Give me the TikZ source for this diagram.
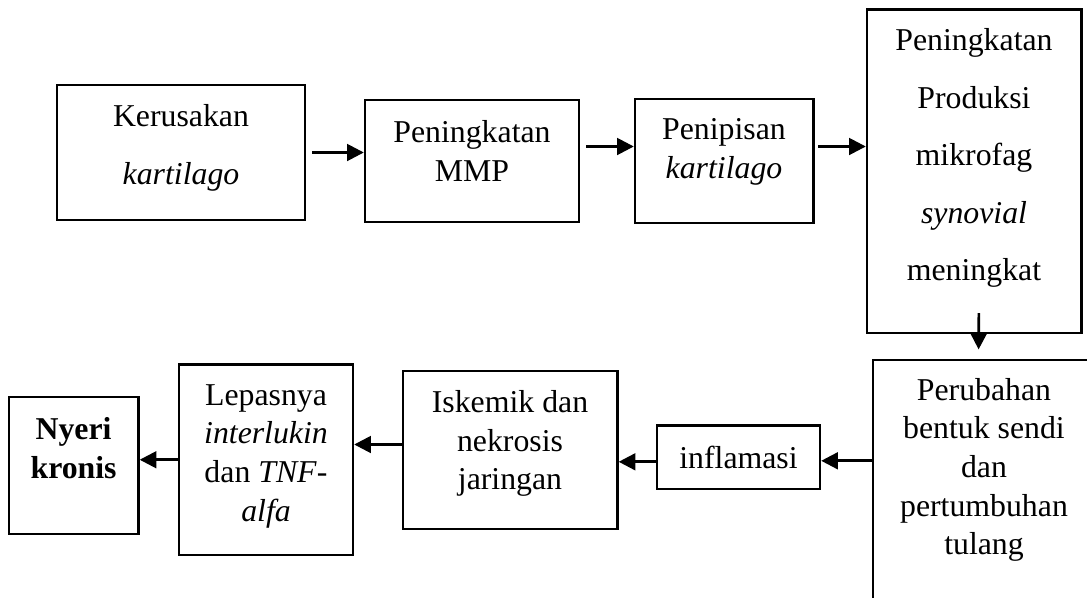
\documentclass[tikz,border=0pt]{standalone}
\usepackage{fontspec}
\setmainfont{Liberation Serif}
\usetikzlibrary{arrows.meta,calc,fit}

\begin{document}
\begin{tikzpicture}[x=0.3774pt,y=-0.3774pt,
  stage/.style={draw,line width=.9pt,inner sep=0pt},
  stagetext/.style={align=center,inner sep=0pt,font=\fontsize{12}{14.6}\selectfont},
  widetext/.style={align=center,inner sep=0pt,font=\fontsize{12}{21.7}\selectfont},
  flow/.style={-{Triangle[length=6.3pt,width=6.3pt]},line width=1pt}]
  \useasboundingbox (0,0) rectangle (1087,598);
  \clip (0,0) rectangle (1087,598);
  % upper row
  \node[stage,fit={(57,85) (305,220)}] (b1) {};
  \node[widetext] (t1) at (181,148) {Kerusakan\\ \textit{kartilago}};
  \node[stage,fit={(365,100) (579,222)}] (b2) {};
  \node[stagetext] (t2) at (472,151) {Peningkatan\\ MMP};
  \node[stage,fit={(635,99) (813.5,223)}] (b3) {};
  \node[stagetext] (t3) at (724,152) {Penipisan\\ \textit{kartilago}};
  \node[stage,fit={(867,9.5) (1081.5,333)}] (b4) {};
  \node[widetext] (t4) at (974,158) {Peningkatan\\ Produksi\\ mikrofag\\ \textit{synovial}\\ meningkat};
  % lower row
  \node[stage,fit={(873,360) (1095,610)}] (b5) {};
  \node[stagetext] (t5) at (984,470) {Perubahan\\ bentuk sendi\\ dan\\ pertumbuhan\\ tulang};
  \node[stage,fit={(657,425.6) (820,489)}] (b6) {};
  \node[stagetext] (t6) at (738.5,457) {inflamasi};
  \node[stage,fit={(403,371) (617.5,529)}] (b7) {};
  \node[stagetext] (t7) at (510,443.5) {Iskemik dan\\ nekrosis\\ jaringan};
  \node[stage,fit={(179,364.5) (353,555)}] (b8) {};
  \node[stagetext] (t8) at (266,456) {Lepasnya\\ \textit{interlukin}\\ dan \textit{TNF}-\\ \textit{alfa}};
  \node[stage,fit={(9,397) (138.5,534)}] (b9) {};
  \node[stagetext,font=\fontsize{12}{14.6}\selectfont\bfseries] (t9) at (73.6,448) {Nyeri\\ kronis};

  \draw[flow] ($(b1.east)+(6,0)$) -- (b1.east -| b2.west);
  \draw[flow] ($(b2.east)+(6,-14.5)$) -- ($(b2.east -| b3.west)+(0,-14.5)$);
  \draw[flow] ($(b3.east)+(3.5,-14.5)$) -- ($(b3.east -| b4.west)+(0,-14.5)$);
  \draw[flow] ($(b4.south)+(4.6,-21)$) -- ($(b5.north)+(-5.4,-9.4)$);
  \draw[flow] ($(b5.west |- b6.east)+(0,3.5)$) -- ($(b6.east)+(0,3.5)$);
  \draw[flow] ($(b6.west)+(0,4.5)$) -- ($(b6.west -| b7.east)+(0,4.5)$);
  \draw[flow] ($(b7.west)+(0,-5.5)$) -- ($(b7.west -| b8.east)+(0,-5.5)$);
  \draw[flow] (b8.west) -- (b8.west -| b9.east);
\end{tikzpicture}
\end{document}
